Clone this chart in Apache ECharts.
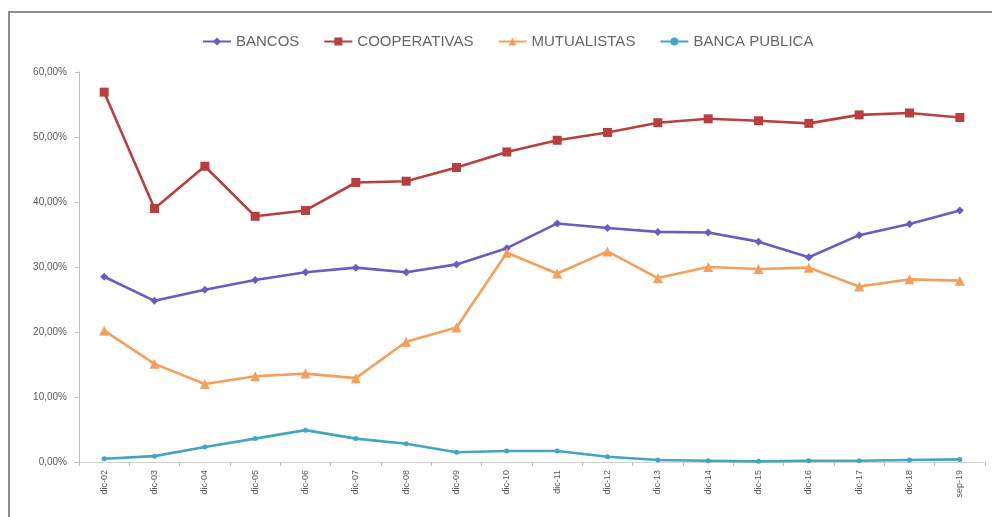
<!DOCTYPE html>
<html>
<head>
<meta charset="utf-8">
<script src="https://cdn.jsdelivr.net/npm/echarts@6/dist/echarts.min.js"></script>
<style>
html,body{margin:0;padding:0;background:#fff;}
#chart{width:992px;height:517px;}
</style>
</head>
<body>
<div id="chart"></div>
<script>
var categories = ['dic-02','dic-03','dic-04','dic-05','dic-06','dic-07','dic-08','dic-09','dic-10','dic-11','dic-12','dic-13','dic-14','dic-15','dic-16','dic-17','dic-18','sep-19'];
var bancos = [28.5,24.8,26.5,28.0,29.2,29.9,29.2,30.4,32.9,36.7,36.0,35.4,35.3,33.9,31.5,34.9,36.6,38.7];
var cooperativas = [56.9,39.0,45.5,37.8,38.7,43.0,43.2,45.3,47.7,49.5,50.7,52.2,52.8,52.5,52.1,53.4,53.7,53.0];
var mutualistas = [20.2,15.1,12.0,13.2,13.6,12.9,18.5,20.7,32.2,29.0,32.4,28.3,30.0,29.7,29.9,27.0,28.1,27.9];
var bancaPublica = [0.5,0.9,2.3,3.6,4.9,3.6,2.8,1.5,1.7,1.7,0.8,0.3,0.2,0.1,0.2,0.2,0.3,0.4];
var yTicks = [0,10,20,30,40,50,60];

var chart = echarts.init(document.getElementById('chart'), null, {renderer:'canvas'});
function mk(name, data, color, symbol, size){
  return {name:name, type:'line', data:data, symbol:symbol, symbolSize:size,
    lineStyle:{color:color, width:2.6}, itemStyle:{color:color}, showSymbol:true};
}
chart.setOption({
  animation:false,
  backgroundColor:'#ffffff',
  graphic:[{type:'rect', shape:{x:9,y:12,width:1000,height:600}, style:{fill:'none', stroke:'#8c8c8c', lineWidth:2}}],
  legend:{
    top:29, left:197, itemGap:24, itemWidth:28, itemHeight:10,
    textStyle:{color:'#666666', fontSize:15, fontFamily:'Liberation Sans, sans-serif'},
    data:['BANCOS','COOPERATIVAS','MUTUALISTAS','BANCA PUBLICA']
  },
  grid:{left:79, right:7, top:72, bottom:55, containLabel:false},
  xAxis:{
    type:'category', data:categories, boundaryGap:true,
    axisLine:{lineStyle:{color:'#d0d0d0', width:1}},
    axisTick:{show:true, length:4, lineStyle:{color:'#bfbfbf'}},
    axisLabel:{rotate:90, color:'#595959', fontSize:9, margin:8, fontFamily:'Liberation Sans, sans-serif'}
  },
  yAxis:{
    type:'value', min:yTicks[0], max:yTicks[yTicks.length-1], interval:10,
    splitLine:{show:false},
    axisLine:{show:true, lineStyle:{color:'#bfbfbf', width:1}},
    axisTick:{show:true, length:4, lineStyle:{color:'#bfbfbf'}},
    axisLabel:{color:'#595959', fontSize:10, margin:12, fontFamily:'Liberation Sans, sans-serif',
      formatter:function(v){return v.toFixed(2).replace('.',',')+'%';}}
  },
  series:[
    mk('BANCOS', bancos, '#6a5cc4', 'diamond', 8),
    mk('COOPERATIVAS', cooperativas, '#b93f3f', 'rect', 9),
    mk('MUTUALISTAS', mutualistas, '#f5a05a', 'triangle', 10),
    mk('BANCA PUBLICA', bancaPublica, '#42a5c2', 'circle', 5)
  ]
});
</script>
</body>
</html>
